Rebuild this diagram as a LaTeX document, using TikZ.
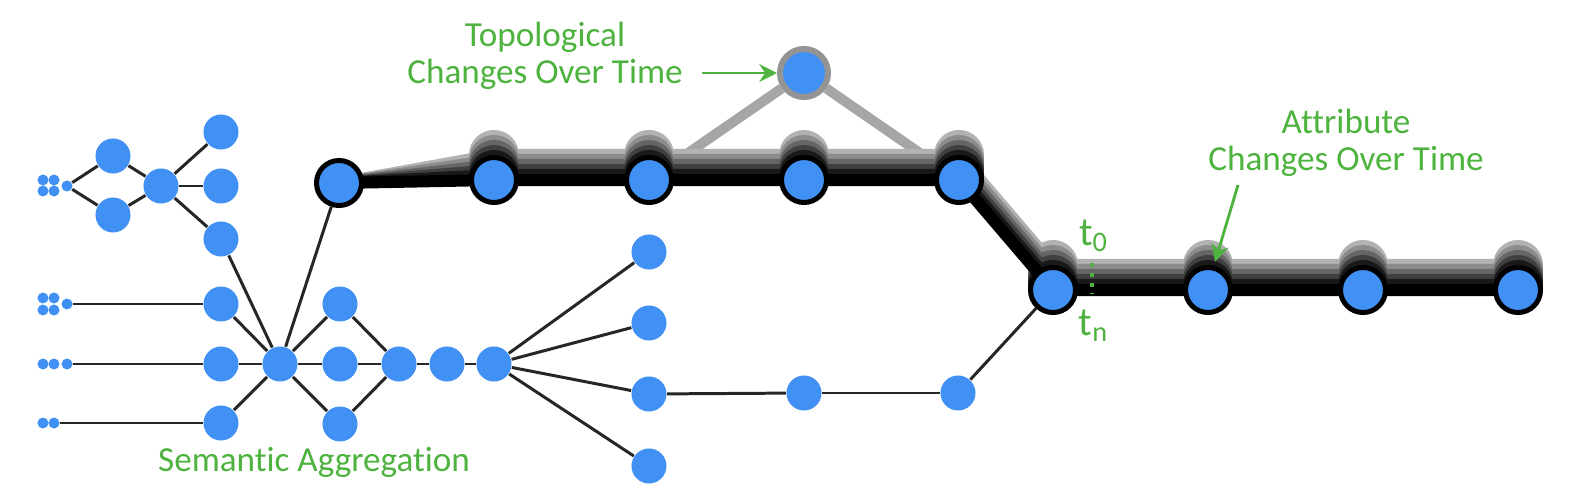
\documentclass[tikz,border=0pt]{standalone}
\usepackage{fontspec}
\setmainfont{Carlito}[Ligatures=NoCommon]
\usepackage{tikz}
\usetikzlibrary{arrows.meta,positioning,calc}
\definecolor{NodeBlue}{HTML}{4191F4}
\definecolor{NoteGreen}{HTML}{4DB33E}
\pgfdeclarelayer{bg}
\pgfsetlayers{bg,main}
\tikzset{
  vtx/.style={circle,fill=NodeBlue,inner sep=0pt,minimum size=3.5mm},
  dot/.style={circle,fill=NodeBlue,inner sep=0pt,minimum size=1.1mm},
  keyvtx/.style={circle,fill=NodeBlue,draw=black,line width=0.5mm,inner sep=0pt,minimum size=4.5mm},
  topovtx/.style={circle,fill=NodeBlue,draw=black!42,line width=0.6mm,inner sep=0pt,minimum size=4.8mm},
  link/.style={line width=0.85pt,draw=black!85},
  topolink/.style={line width=1mm,draw=black!35},
  trail/.style={line width=1.2mm,line join=round},
  note/.style={text=NoteGreen,font=\fontsize{10}{10.4}\selectfont,align=center,inner sep=0pt},
  timenote/.style={text=NoteGreen,font=\fontsize{11.5}{11.5}\selectfont,inner sep=0pt},
  notearrow/.style={draw=NoteGreen,line width=0.8pt,-{Stealth[length=5pt,width=5pt]}},
}

\begin{document}
\begin{tikzpicture}[x=0.01cm,y=-0.01cm]
  \useasboundingbox (0,0) rectangle (1578,500);
  % input dots
  \foreach \i/\x/\y in {1/43/180,2/54/180,3/43/191,4/54/191,5/67/186}
    \node[dot] (ua\i) at (\x,\y) {};
  \foreach \i/\x/\y in {1/43/298,2/54/298,3/43/310,4/54/310,5/67/304}
    \node[dot] (ub\i) at (\x,\y) {};
  \foreach \i/\x in {1/43,2/54,3/67}
    \node[dot] (uc\i) at (\x,364) {};
  \foreach \i/\x in {1/43,2/54}
    \node[dot] (ud\i) at (\x,423) {};
  % semantic aggregation tree
  \node[vtx] (A1) at (113,156) {};
  \node[vtx] (A2) at (113,215) {};
  \node[vtx] (A3) at (161,186) {};
  \foreach \n/\y in {B1/132,B2/186,B3/239,R1/304,R2/364,R3/423}
    \node[vtx] (\n) at (221,\y) {};
  \node[vtx] (H) at (280,364) {};
  \foreach \n/\y in {D1/304,D2/364,D3/424}
    \node[vtx] (\n) at (340,\y) {};
  \foreach \n/\x in {E/399,F/447,G/494}
    \node[vtx] (\n) at (\x,364) {};
  \foreach \n/\y in {P1/252,P2/323,P3/394,P4/466}
    \node[vtx] (\n) at (649,\y) {};
  \node[vtx] (Q1) at (804,393) {};
  \node[vtx] (Q2) at (958,393) {};
  % path over time
  \node[keyvtx] (T1) at (339,183) {};
  \foreach \n/\x in {T2/494,T3/649,T4/804,T5/959}
    \node[keyvtx] (\n) at (\x,180) {};
  \foreach \n/\x in {S1/1053,S2/1208,S3/1363,S4/1518}
    \node[keyvtx] (\n) at (\x,290) {};
  \node[topovtx] (Tp) at (804,73) {};
  \begin{pgfonlayer}{bg}
    \foreach \a/\b in {ua5/A1,ua5/A2,A1/A3,A2/A3,A3/B1,A3/B2,A3/B3,B3/H,ub5/R1,uc3/R2,ud2/R3,
                       R1/H,R2/H,R3/H,H/T1,H/D1,H/D2,H/D3,D1/E,D2/E,D3/E,E/F,F/G,
                       G/P1,G/P2,G/P3,G/P4,P3/Q1,Q1/Q2,Q2/S1}
      \draw[link] (\a) -- (\b);
    \draw[topolink] (Tp) -- (T3) (Tp) -- (T5);
    % ghost copies, oldest on top
    \foreach \k/\shade in {5/black!30,4/black!45,3/black!60,2/black!75,1/black!90}{
      \draw[trail,\shade] (T1.center)
        \foreach \n in {T2,T3,T4,T5,S1,S2,S3,S4}{ -- ([yshift=\k*0.05cm]\n.center) };
      \foreach \n in {T2,T3,T4,T5,S1,S2,S3,S4}
        \fill[\shade] ([yshift=\k*0.05cm]\n.center) circle (0.25cm);
    }
    \draw[trail,black] (T1.center)
      \foreach \n in {T2,T3,T4,T5,S1,S2,S3,S4}{ -- (\n.center) };
  \end{pgfonlayer}
  % labels
  \node[note] (topolbl) at (545,56) {Topological\\Changes Over Time};
  \coordinate (topotail) at (702,73);
  \draw[notearrow] (topotail) -- (Tp);
  \node[note] (attrlbl) at (1346,143) {Attribute\\Changes Over Time};
  \coordinate (attrtail) at (1238,185);
  \coordinate (attrtip) at (1215,262);
  \draw[notearrow] (attrtail) -- (attrtip);
  \node[note] (semlbl) at (314,462) {Semantic Aggregation};
  \node[timenote] (tzero) at (1094,236) {t\textsubscript{0}};
  \node[timenote] (tlast) at (1094,326) {t\textsubscript{n}};
  \coordinate (tick0) at (1092,263);
  \coordinate (tick1) at (1092,293);
  \draw[NoteGreen,line width=0.9pt,dash pattern=on 1.1pt off 1.7pt] (tick0) -- (tick1);
\end{tikzpicture}
\end{document}
